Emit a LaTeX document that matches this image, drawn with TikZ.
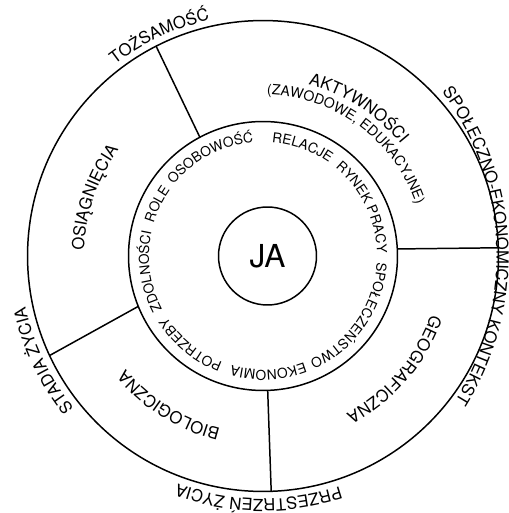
\documentclass[tikz,border=0pt]{standalone}
\usepackage{fontspec}
\setmainfont{TeX Gyre Heros}
\usetikzlibrary{decorations.text}
% #1 radius, #2 centre angle, #3 half span of the path, #4 font size, #5 text
\newcommand\arclbl[5]{%
  \path[decorate,decoration={text along path,text align=center,
      text={|\fontsize{#4}{#4}\selectfont|#5}}]
    ({#2+#3}:#1) arc[start angle={#2+#3},end angle={#2-#3},radius=#1];}
\begin{document}
\begin{tikzpicture}[x=0.02cm,y=0.02cm,
  ring/.style={draw, circle, line width=0.85pt, inner sep=0pt, outer sep=0pt},
  divider/.style={line width=0.85pt}]
\useasboundingbox (-263,-257) rectangle (246,256);
\node[ring, minimum size=9.42cm] (outer) at (0,0) {};
\node[ring, minimum size=5.38cm] (mid) at (0,0) {};
\node[ring, minimum size=1.96cm, font=\fontsize{18}{18}\selectfont] (ja) at (4.5,0) {JA};
\draw[divider] (mid.118.3) -- (outer.117.2);
\draw[divider] (mid.3.4) -- (outer.2);
\draw[divider] (mid.-88.3) -- (outer.-88.5);
\draw[divider] (mid.202.2) -- (outer.205.5);
% outer labels
\arclbl{242}{115.2}{40}{9.5}{TOŻSAMOŚĆ}
\path[decorate,decoration={text along path,text align=center,
      text={|\fontsize{9.5}{9.5}\selectfont|SPOŁECZNO-EKONOMICZNY KONTEKST}}]
  ({-40+273.5*cos(62.45)},{273.5*sin(62.45)}) arc[start angle=62.45,end angle=-57.55,radius=273.5];
\arclbl{243}{-91}{40}{9.5}{PRZESTRZEŃ ŻYCIA}
\arclbl{243}{205.5}{40}{9.5}{STADIA ŻYCIA}
% middle ring labels
\arclbl{179}{161}{40}{9.5}{OSIĄGNIĘCIA}
\arclbl{177.5}{57.1}{40}{9.5}{AKTYWNOŚCI}
\arclbl{161.5}{53.6}{50}{8}{(ZAWODOWE, EDUKACYJNE)}
\arclbl{178}{-40.7}{40}{9.5}{GEOGRAFICZNA}
\arclbl{178}{237.8}{40}{9.5}{BIOLOGICZNA}
% inner labels
\arclbl{114}{187.7}{40}{7.8}{ZDOLNOŚCI}
\arclbl{114}{153.9}{40}{7.8}{ROLE}
\arclbl{114}{118.1}{40}{7.8}{OSOBOWOŚĆ}
\arclbl{114}{70.1}{40}{7.8}{RELACJE}
\arclbl{114}{26}{40}{7.8}{RYNEK PRACY}
\arclbl{114}{-34.5}{40}{7.8}{SPOŁECZEŃSTWO}
\arclbl{114}{-87.3}{40}{7.8}{EKONOMIA}
\arclbl{114}{230.7}{40}{7.8}{POTRZEBY}
\end{tikzpicture}
\end{document}
